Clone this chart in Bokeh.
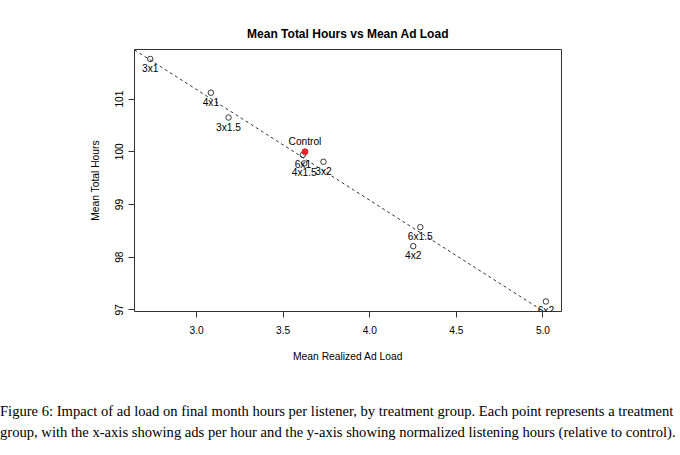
from bokeh.plotting import figure
from bokeh.models import Range1d, FixedTicker, ColumnDataSource, CustomJSTickFormatter, Div
from bokeh.layouts import column
from bokeh.core.properties import value
from bokeh.embed import file_html
from bokeh.resources import INLINE

# ---- data ----
groups = ["3x1", "4x1", "3x1.5", "6x1", "4x1.5", "3x2", "6x1.5", "4x2", "6x2"]
ad_load = [2.733, 3.083, 3.185, 3.614, 3.622, 3.733, 4.292, 4.251, 5.017]
hours = [101.76, 101.12, 100.65, 99.94, 99.78, 99.81, 98.57, 98.21, 97.16]
control_name = ["Control"]
control_ad_load = [3.626]
control_hours = [100.0]
fit_intercept = 107.48
fit_slope = -2.1
x_ticks = [3.0, 3.5, 4.0, 4.5, 5.0]
y_ticks = [97, 98, 99, 100, 101]
x_lim = (2.642, 5.107)
y_lim = (96.97, 101.94)

title_text = "Mean Total Hours vs Mean Ad Load"
x_label = "Mean Realized Ad Load"
y_label = "Mean Total Hours"
caption_lines = [
    "Figure 6: Impact of ad load on final month hours per listener, by treatment group. Each point represents a treatment",
    "group, with the x-axis showing ads per hour and the y-axis showing normalized listening hours (relative to control).",
]

FONT = "Liberation Sans"
INK = "#222222"

p = figure(width=680, height=401, output_backend="svg", toolbar_location=None,
           x_range=Range1d(*x_lim), y_range=Range1d(*y_lim),
           min_border_left=134, min_border_right=119, min_border_top=49, min_border_bottom=90)
p.background_fill_color = "white"
p.border_fill_color = "white"
p.grid.visible = False
p.outline_line_color = "#333333"
p.outline_line_width = 1

p.title.text = title_text
p.title.align = "center"
p.title.text_font = FONT
p.title.text_font_size = "12px"
p.title.text_font_style = "bold"
p.title.text_color = "black"
p.title.standoff = 17

for ax in (p.xaxis[0], p.yaxis[0]):
    ax.axis_line_color = None
    ax.major_tick_out = 6
    ax.major_tick_in = 0
    ax.minor_tick_line_color = None
    ax.major_tick_line_color = "#333333"
    ax.major_label_text_font = FONT
    ax.major_label_text_font_size = "10.2px"
    ax.major_label_text_color = "black"
    ax.axis_label_text_font = FONT
    ax.axis_label_text_font_size = "10.3px"
    ax.axis_label_text_font_style = "normal"
    ax.axis_label_text_color = "black"

p.xaxis[0].ticker = FixedTicker(ticks=x_ticks)
p.xaxis[0].formatter = CustomJSTickFormatter(code="return tick.toFixed(1);")
p.xaxis[0].major_label_standoff = 8
p.xaxis[0].axis_label = x_label
p.xaxis[0].axis_label_standoff = 14

p.yaxis[0].ticker = FixedTicker(ticks=y_ticks)
p.yaxis[0].formatter = CustomJSTickFormatter(code="return tick.toFixed(0);")
p.yaxis[0].major_label_orientation = "vertical"
p.yaxis[0].major_label_standoff = 5
p.yaxis[0].axis_label = y_label
p.yaxis[0].axis_label_standoff = 12

# dashed fitted line across the plot range
fx = [x_lim[0], x_lim[1]]
fy = [fit_intercept + fit_slope * v for v in fx]
p.line(fx, fy, line_color="#333333", line_width=1, line_dash="3 3")

src = ColumnDataSource(dict(x=ad_load, y=hours, name=groups))
p.scatter("x", "y", source=src, size=5.5, fill_color=None, line_color=INK, line_width=0.9)
p.scatter(control_ad_load, control_hours, size=6, fill_color="#e3262c", line_color="#e3262c")

p.text("x", "y", text="name", source=src, text_align="center", text_baseline="middle",
       y_offset=9.5, text_font=value(FONT), text_font_size="10.2px", text_color="black")
p.text(control_ad_load, control_hours, text=control_name, text_align="center", text_baseline="middle",
       y_offset=-10, text_font=value(FONT), text_font_size="10.2px", text_color="black")

caption = Div(text="<br>".join(caption_lines), width=680, height=54, margin=(0, 0, 0, 0),
              styles={"font-family": "'Liberation Serif', serif", "font-size": "14.6px",
                      "line-height": "21px", "white-space": "nowrap", "color": "black",
                      "padding-left": "0px", "overflow": "hidden"})

layout = column(p, caption, spacing=0)
open("out.html", "w").write(file_html(layout, INLINE))
